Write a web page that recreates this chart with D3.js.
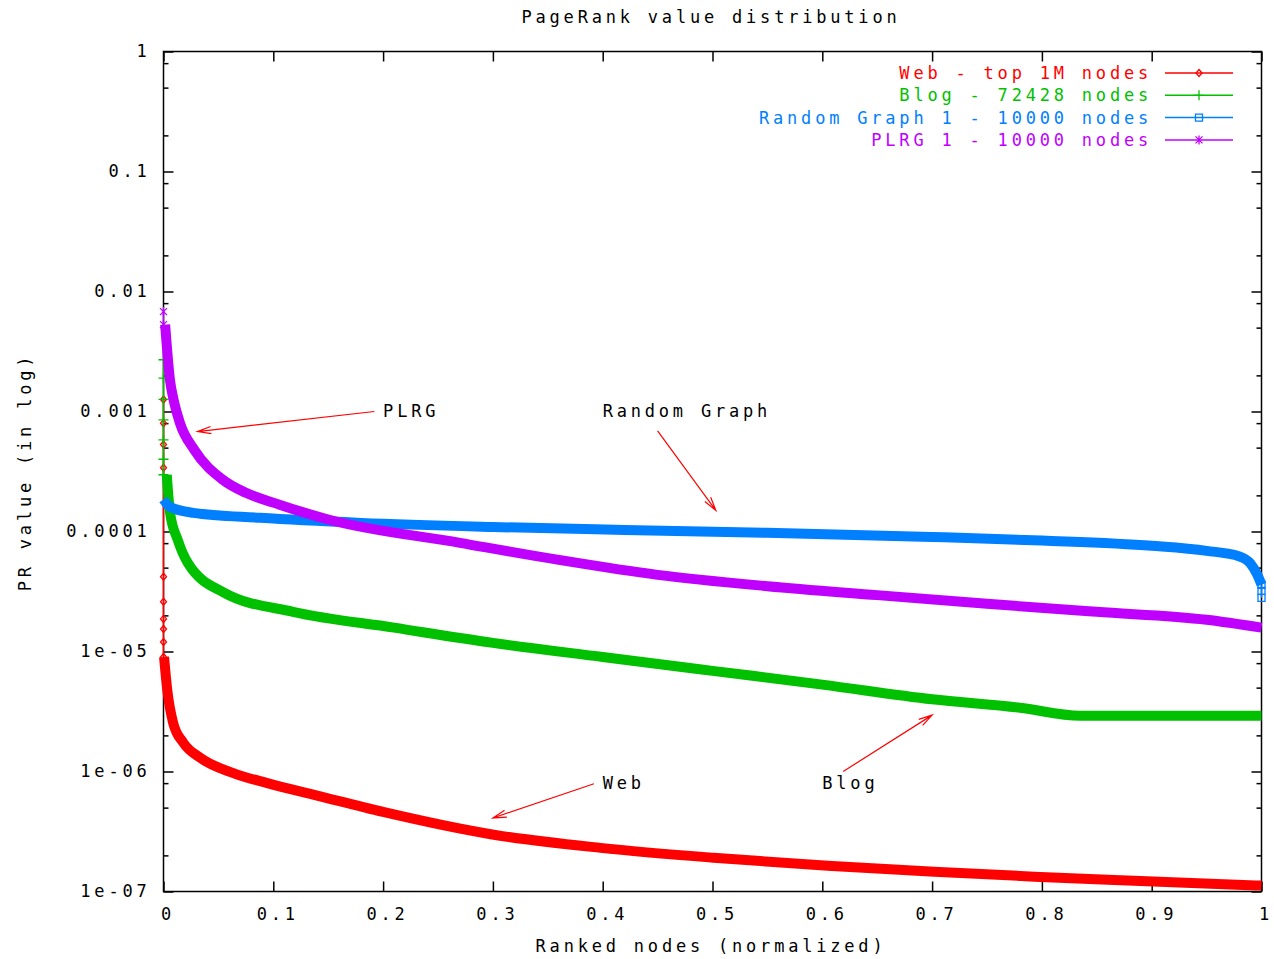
<!DOCTYPE html>
<html>
<head>
<meta charset="utf-8">
<script src="https://cdn.jsdelivr.net/npm/d3@7"></script>
<style>
  body { margin: 0; background: #fff; }
  svg text { font-family: "DejaVu Sans Mono", "Liberation Mono", monospace; font-size: 17px; letter-spacing: 3.8px; fill: #000; }
  .tick line { stroke: #000; stroke-width: 1.5; }
</style>
</head>
<body>
<svg id="chart" width="1274" height="959"></svg>
<script>
// ranks are normalised to [0,1]; PR values
var webRank = [0.0005, 0.0034, 0.0088, 0.018, 0.0335, 0.0636, 0.0946, 0.14, 0.2, 0.298, 0.398, 0.501, 0.605, 0.702, 0.793, 0.884, 1.0];
var webPR = [9e-6, 4.8e-6, 2.54e-6, 1.74e-6, 1.3e-6, 9.7e-7, 8.0e-7, 6.3e-7, 4.6e-7, 3.0e-7, 2.31e-7, 1.91e-7, 1.64e-7, 1.46e-7, 1.33e-7, 1.23e-7, 1.12e-7];
var webSpike = [1.26e-3, 8.0e-4, 5.3e-4, 3.4e-4, 4.2e-5, 2.6e-5, 1.87e-5, 1.54e-5, 1.2e-5, 9e-6];

var blogRank = [0.003, 0.004, 0.006, 0.013, 0.022, 0.055, 0.118, 0.21, 0.30, 0.40, 0.50, 0.60, 0.70, 0.78, 0.835, 1.0];
var blogPR = [2.97e-4, 2.22e-4, 1.43e-4, 8.5e-5, 5.5e-5, 3.1e-5, 2.14e-5, 1.58e-5, 1.18e-5, 9.0e-6, 6.9e-6, 5.3e-6, 4.0e-6, 3.4e-6, 2.91e-6, 2.91e-6];
var blogSpike = [2.7e-3, 1.9e-3, 1.26e-3, 8.5e-4, 5.8e-4, 4.0e-4, 2.97e-4];

var randRank = [0, 0.006, 0.027, 0.088, 0.18, 0.30, 0.42, 0.55, 0.70, 0.80, 0.90, 0.95, 0.98, 0.99, 0.996, 1.0];
var randPR = [1.85e-4, 1.6e-4, 1.43e-4, 1.30e-4, 1.18e-4, 1.09e-4, 1.03e-4, 9.75e-5, 9.0e-5, 8.4e-5, 7.6e-5, 6.9e-5, 6.2e-5, 5.4e-5, 4.4e-5, 3.6e-5];
var randSpike = [3.6e-5, 3.2e-5, 2.8e-5];

var plrgRank = [0.0015, 0.006, 0.0088, 0.015, 0.028, 0.054, 0.075, 0.10, 0.15, 0.27, 0.36, 0.45, 0.55, 0.65, 0.75, 0.85, 0.95, 1.0];
var plrgPR = [5.3e-3, 1.8e-3, 1.3e-3, 8.0e-4, 4.8e-4, 2.7e-4, 2.1e-4, 1.74e-4, 1.26e-4, 8.05e-5, 5.8e-5, 4.35e-5, 3.5e-5, 2.95e-5, 2.5e-5, 2.14e-5, 1.84e-5, 1.58e-5];
var plrgSpike = [6.8e-3, 5.3e-3];

var legendLabels = ['Web - top 1M nodes', 'Blog - 72428 nodes', 'Random Graph 1 - 10000 nodes', 'PLRG 1 - 10000 nodes'];
var seriesColors = ['#ff0000', '#00c000', '#0080ff', '#c000ff'];

var xTicks = [0, 0.1, 0.2, 0.3, 0.4, 0.5, 0.6, 0.7, 0.8, 0.9, 1];
var xTickLabels = ['0', '0.1', '0.2', '0.3', '0.4', '0.5', '0.6', '0.7', '0.8', '0.9', '1'];
var yTicks = [1, 0.1, 0.01, 0.001, 1e-4, 1e-5, 1e-6, 1e-7];
var yTickLabels = ['1', '0.1', '0.01', '0.001', '0.0001', '1e-05', '1e-06', '1e-07'];

var noteLabels = ['PLRG', 'Random Graph', 'Web', 'Blog'];
var noteAt = [[0.2, 1e-3], [0.4, 1e-3], [0.4, 8e-7], [0.6, 8e-7]];
var arrowFrom = [[0.192, 1e-3], [0.45, 6.9e-4], [0.392, 7.9e-7], [0.619, 1e-6]];
var arrowTo = [[0.031, 6.8e-4], [0.503, 1.5e-4], [0.30, 4.1e-7], [0.70, 2.95e-6]];

var svg = d3.select('#chart');
var plotLeft = 163.5, plotRight = 1261.5, plotTop = 51.5, plotBottom = 891.5;

var x = d3.scaleLinear().domain([0, 1]).range([plotLeft, plotRight]);
var y = d3.scaleLog().domain([1e-7, 1]).range([plotBottom, plotTop]);

// minor ticks at 2, 5, 8 of each decade
var yMinor = [];
d3.range(-7, 0).forEach(function(e) {
  [2, 5, 8].forEach(function(m) { yMinor.push(m * Math.pow(10, e)); });
});

function noDomain(g) {
  g.select('.domain').remove();
  g.attr('font-family', null).attr('font-size', null);
}

svg.append('g').attr('transform', 'translate(' + plotLeft + ',0)')
  .call(d3.axisLeft(y).tickValues(yTicks).tickSize(-10).tickPadding(13)
    .tickFormat(function(d, i) { return yTickLabels[i]; }))
  .call(noDomain);
svg.append('g').attr('transform', 'translate(' + plotLeft + ',0)')
  .call(d3.axisLeft(y).tickValues(yMinor).tickSize(-5).tickFormat(''))
  .call(noDomain);
svg.append('g').attr('transform', 'translate(' + plotRight + ',0)')
  .call(d3.axisRight(y).tickValues(yTicks).tickSize(-10).tickFormat(''))
  .call(noDomain);
svg.append('g').attr('transform', 'translate(' + plotRight + ',0)')
  .call(d3.axisRight(y).tickValues(yMinor).tickSize(-5).tickFormat(''))
  .call(noDomain);
svg.append('g').attr('class', 'xaxis').attr('transform', 'translate(0,' + plotBottom + ')')
  .call(d3.axisBottom(x).tickValues(xTicks).tickSize(-10).tickPadding(16)
    .tickFormat(function(d, i) { return xTickLabels[i]; }))
  .call(noDomain);
svg.append('g').attr('transform', 'translate(0,' + plotTop + ')')
  .call(d3.axisTop(x).tickValues(xTicks).tickSize(-10).tickFormat(''))
  .call(noDomain);

// gnuplot puts the x labels a bit right of the tick
svg.selectAll('.xaxis .tick text').attr('dx', 4);

svg.append('rect')
  .attr('x', plotLeft).attr('y', plotTop)
  .attr('width', plotRight - plotLeft).attr('height', plotBottom - plotTop)
  .attr('fill', 'none').attr('stroke', '#000').attr('stroke-width', 1.5);

var series = [
  { rank: webRank, pr: webPR, spike: webSpike, spikeAt: 0 },
  { rank: blogRank, pr: blogPR, spike: blogSpike, spikeAt: 0 },
  { rank: randRank, pr: randPR, spike: randSpike, spikeAt: 1 },
  { rank: plrgRank, pr: plrgPR, spike: plrgSpike, spikeAt: 0 }
];

var markers = [
  'M0,-3.5L3,0L0,3.5L-3,0Z',
  'M-5,0H5M0,-5V5',
  'M-3.5,-3.5H3.5V3.5H-3.5Z',
  'M-3.5,-3.5L3.5,3.5M-3.5,3.5L3.5,-3.5M0,-4.5V4.5'
];

var line = d3.line()
  .x(function(d) { return x(d[0]); })
  .y(function(d) { return y(d[1]); })
  .curve(d3.curveMonotoneX);

series.forEach(function(s, i) {
  var col = seriesColors[i];
  var g = svg.append('g');
  var spikePts = s.spike.map(function(v) { return [s.spikeAt, v]; });
  g.append('path')
    .attr('d', d3.line().x(function(d) { return x(d[0]); }).y(function(d) { return y(d[1]); })(spikePts))
    .attr('fill', 'none').attr('stroke', col).attr('stroke-width', 1.5);
  g.selectAll('path.mk').data(spikePts).enter().append('path')
    .attr('class', 'mk')
    .attr('transform', function(d) { return 'translate(' + x(d[0]) + ',' + y(d[1]) + ')'; })
    .attr('d', markers[i])
    .attr('fill', 'none').attr('stroke', col).attr('stroke-width', 1.3);
  g.append('path')
    .attr('d', line(d3.zip(s.rank, s.pr)))
    .attr('fill', 'none').attr('stroke', col).attr('stroke-width', 10)
    .attr('stroke-linejoin', 'round');
});

// annotations
noteLabels.forEach(function(t, i) {
  svg.append('text')
    .attr('x', x(noteAt[i][0])).attr('y', y(noteAt[i][1]))
    .attr('dy', '0.35em')
    .text(t);
  var x1 = x(arrowFrom[i][0]), y1 = y(arrowFrom[i][1]);
  var x2 = x(arrowTo[i][0]), y2 = y(arrowTo[i][1]);
  var ang = Math.atan2(y1 - y2, x1 - x2);
  var len = 14, spread = 0.26;
  var head = 'M' + (x2 + len * Math.cos(ang + spread)) + ',' + (y2 + len * Math.sin(ang + spread)) +
    'L' + x2 + ',' + y2 +
    'L' + (x2 + len * Math.cos(ang - spread)) + ',' + (y2 + len * Math.sin(ang - spread));
  svg.append('path')
    .attr('d', 'M' + x1 + ',' + y1 + 'L' + x2 + ',' + y2 + head)
    .attr('fill', 'none').attr('stroke', '#ff0000').attr('stroke-width', 1.2);
});

// legend
var legend = svg.append('g');
legendLabels.forEach(function(t, i) {
  var ly = 73 + i * 22.3;
  legend.append('text')
    .attr('x', 1152).attr('y', ly).attr('dy', '0.35em')
    .attr('text-anchor', 'end')
    .style('fill', seriesColors[i])
    .text(t);
  legend.append('line')
    .attr('x1', 1165).attr('x2', 1233).attr('y1', ly).attr('y2', ly)
    .attr('stroke', seriesColors[i]).attr('stroke-width', 1.5);
  legend.append('path')
    .attr('transform', 'translate(1199,' + ly + ')')
    .attr('d', markers[i])
    .attr('fill', 'none').attr('stroke', seriesColors[i]).attr('stroke-width', 1.3);
});

svg.append('text')
  .attr('x', 711).attr('y', 17).attr('dy', '0.35em')
  .attr('text-anchor', 'middle')
  .text('PageRank value distribution');
svg.append('text')
  .attr('x', 711).attr('y', 946).attr('dy', '0.35em')
  .attr('text-anchor', 'middle')
  .text('Ranked nodes (normalized)');
svg.append('text')
  .attr('transform', 'translate(25,472) rotate(-90)')
  .attr('dy', '0.35em')
  .attr('text-anchor', 'middle')
  .text('PR value (in log)');
</script>
</body>
</html>
